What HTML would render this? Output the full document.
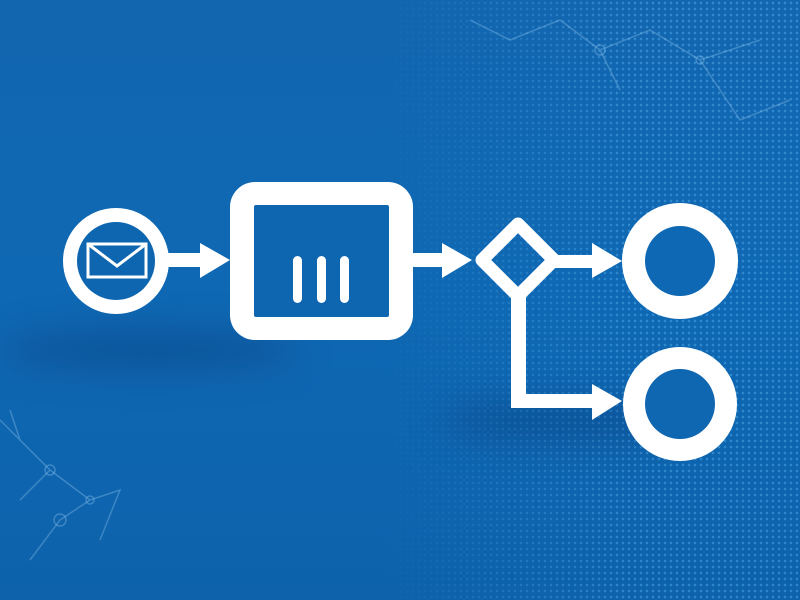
<!DOCTYPE html>
<html><head><meta charset="utf-8"><style>
html,body{margin:0;padding:0}
body{width:800px;height:600px;overflow:hidden;position:relative;background:linear-gradient(180deg,#1266b0 0%,#0f68b3 50%,#0d62ab 100%)}
.dots{position:absolute;left:380px;top:0;width:420px;height:600px;background-image:radial-gradient(circle,rgba(90,180,240,0.45) 1px,transparent 1.6px);background-size:6px 6px;-webkit-mask-image:linear-gradient(90deg,transparent,#000 60%);mask-image:linear-gradient(90deg,transparent,#000 60%)}
.sh{position:absolute;border-radius:50%;background:rgba(8,50,110,0.35);filter:blur(18px)}
svg{position:absolute;left:0;top:0}
</style></head><body>
<div class="dots"></div>
<div class="sh" style="left:0;top:330px;width:300px;height:40px"></div>
<div class="sh" style="left:440px;top:400px;width:250px;height:40px"></div>
<svg width="800" height="600" viewBox="0 0 800 600">
<g stroke="rgba(150,200,240,0.35)" stroke-width="1.5" fill="none">
<path d="M0 420 L20 440 L50 470 L90 500 L60 520 L30 560 M50 470 L20 500 M90 500 L120 490 L100 540 M20 440 L10 410"/>
<path d="M470 20 L510 40 L560 20 L600 50 L650 30 L700 60 L760 40 M600 50 L620 90 M700 60 L740 120 L790 100"/>
<circle cx="50" cy="470" r="5"/><circle cx="90" cy="500" r="4"/><circle cx="60" cy="520" r="6"/><circle cx="600" cy="50" r="5"/><circle cx="700" cy="60" r="4"/>
</g>
<g fill="#fff">
<circle cx="116" cy="261" r="53"/>
<circle cx="116" cy="261" r="39" fill="#0f66b0"/>
<rect x="88" y="244" width="58" height="33" fill="none" stroke="#fff" stroke-width="3"/>
<path d="M88 244 L117 266 L146 244" fill="none" stroke="#fff" stroke-width="3"/>
<rect x="168" y="253" width="34" height="14"/>
<polygon points="200,243 230,260 200,278"/>
<rect x="230" y="182" width="183" height="158" rx="25"/>
<rect x="254" y="205" width="135" height="112" rx="2" fill="#0f66b0"/>
<rect x="293" y="256" width="9" height="47" rx="4.5"/>
<rect x="317" y="256" width="9" height="47" rx="4.5"/>
<rect x="340" y="256" width="9" height="47" rx="4.5"/>
<rect x="411" y="253" width="33" height="14"/>
<polygon points="442,243 472,260 442,278"/>
<polygon points="518,224 554,260 518,296 482,260" fill="none" stroke="#fff" stroke-width="13" stroke-linejoin="round"/>
<rect x="555" y="255" width="39" height="13"/>
<polygon points="592,243 622,261 592,278"/>
<rect x="511" y="295" width="15" height="113"/>
<rect x="511" y="394" width="83" height="14"/>
<polygon points="592,384 622,401 592,420"/>
<circle cx="680" cy="261" r="58"/>
<circle cx="680" cy="261" r="35" fill="#0f68b3"/>
<circle cx="680" cy="404" r="57"/>
<circle cx="680" cy="404" r="35" fill="#0f67b1"/>
</g>
</svg>
</body></html>
